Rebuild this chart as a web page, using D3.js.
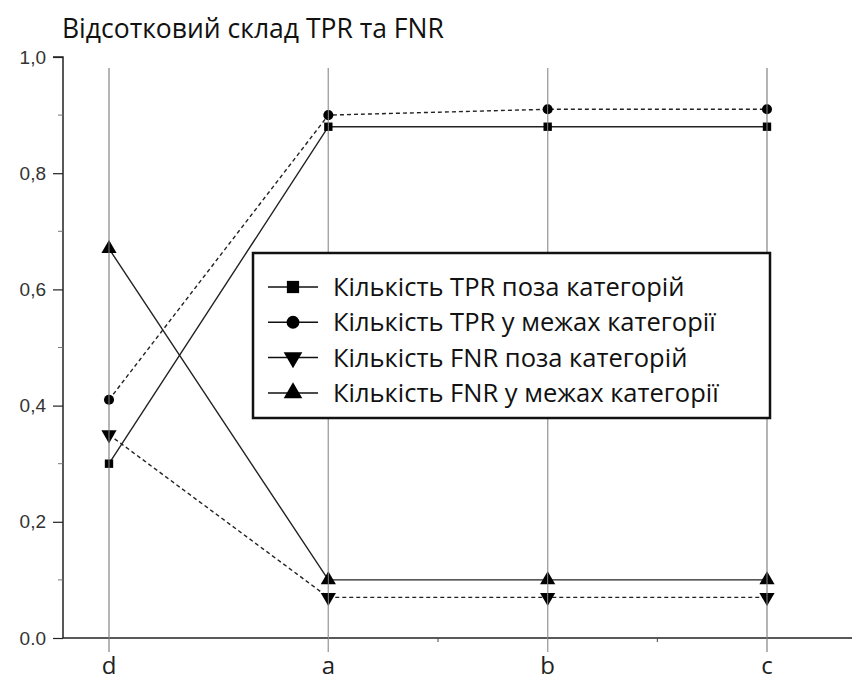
<!DOCTYPE html>
<html>
<head>
<meta charset="utf-8">
<script src="https://cdn.jsdelivr.net/npm/d3@7"></script>
<style>
  body { margin: 0; background: #fff; }
  svg { display: block; }
</style>
</head>
<body>
<script>
// chart data
const categories = ["d", "a", "b", "c"]
const tprOutside = [0.30, 0.88, 0.88, 0.88]
const tprWithin = [0.41, 0.90, 0.91, 0.91]
const fnrOutside = [0.35, 0.07, 0.07, 0.07]
const fnrWithin = [0.67, 0.10, 0.10, 0.10]
const yTicks = [0, 0.2, 0.4, 0.6, 0.8, 1.0]
const yTickLabels = ["0.0", "0,2", "0,4", "0,6", "0,8", "1,0"]
const seriesNames = [
  "Кількість TPR поза категорій",
  "Кількість TPR у межах категорії",
  "Кількість FNR поза категорій",
  "Кількість FNR у межах категорії"
]

const W = 859, H = 680
const svg = d3.select("body").append("svg").attr("width", W).attr("height", H)

const x = d3.scalePoint().domain(categories).range([109, 767])
const y = d3.scaleLinear().domain([0, 1]).range([638, 57])

const series = [
  {name: seriesNames[0], values: tprOutside, symbol: d3.symbolSquare, size: 70, dash: null, rot: 0, lsize: 150},
  {name: seriesNames[1], values: tprWithin, symbol: d3.symbolCircle, size: 80, dash: "4,3", rot: 0, lsize: 130},
  {name: seriesNames[2], values: fnrOutside, symbol: d3.symbolTriangle, size: 100, dash: "4,3", rot: 180, lsize: 150},
  {name: seriesNames[3], values: fnrWithin, symbol: d3.symbolTriangle, size: 100, dash: null, rot: 0, lsize: 150}
]

// title
svg.append("text")
  .attr("x", 62).attr("y", 38)
  .attr("font-family", "'Open Sans', sans-serif")
  .attr("font-size", 26.5)
  .attr("fill", "#111")
  .text("Відсотковий склад TPR та FNR")

// vertical grid lines at each category
svg.append("g").selectAll("line").data(categories).join("line")
  .attr("x1", d => x(d)).attr("x2", d => x(d))
  .attr("y1", 68).attr("y2", 652)
  .attr("stroke", "#999").attr("stroke-width", 1.3)

// y axis
const yAxis = svg.append("g").attr("transform", "translate(63,0)")
  .call(d3.axisLeft(y).tickValues(yTicks).tickFormat((d, i) => yTickLabels[i]).tickSize(10).tickPadding(7))
yAxis.attr("font-size", 19).attr("font-family", "'Liberation Sans', Arial, sans-serif")
yAxis.select(".domain").attr("stroke", "#222").attr("stroke-width", 1.5).attr("d", "M-10,57H0V638")
yAxis.selectAll(".tick line").attr("stroke", "#222").attr("stroke-width", 1.2)
yAxis.selectAll(".tick text").attr("fill", "#333")
// minor ticks
svg.append("g").selectAll("line").data(d3.range(0.1, 1, 0.2)).join("line")
  .attr("x1", 58).attr("x2", 63)
  .attr("y1", d => y(d)).attr("y2", d => y(d))
  .attr("stroke", "#777").attr("stroke-width", 1)

// x axis
svg.append("line")
  .attr("x1", 63).attr("x2", 852).attr("y1", 638).attr("y2", 638)
  .attr("stroke", "#222").attr("stroke-width", 1.5)
const mids = d3.pairs(categories).map(p => (x(p[0]) + x(p[1])) / 2).slice(1)
svg.append("g").selectAll("line").data(mids).join("line")
  .attr("x1", d => d).attr("x2", d => d).attr("y1", 638).attr("y2", 642)
  .attr("stroke", "#444")
svg.append("g").selectAll("text").data(categories).join("text")
  .attr("x", d => x(d)).attr("y", 674)
  .attr("text-anchor", "middle")
  .attr("font-family", "'Open Sans', sans-serif")
  .attr("font-size", 24)
  .attr("fill", "#222")
  .text(d => d)

// series lines and markers
const line = d3.line().x((d, i) => x(categories[i])).y(d => y(d))
series.forEach(s => {
  svg.append("path")
    .attr("d", line(s.values))
    .attr("fill", "none")
    .attr("stroke", "#222")
    .attr("stroke-width", 1.4)
    .attr("stroke-dasharray", s.dash)
  svg.append("g").selectAll("path").data(s.values).join("path")
    .attr("d", d3.symbol().type(s.symbol).size(s.size))
    .attr("transform", (d, i) => `translate(${x(categories[i])},${y(d)}) rotate(${s.rot})`)
    .attr("fill", "#000")
})

// thin grey grid line shows through the markers, like the original
svg.append("g").selectAll("line").data(categories).join("line")
  .attr("x1", d => x(d)).attr("x2", d => x(d))
  .attr("y1", 68).attr("y2", 652)
  .attr("stroke", "#aaa").attr("stroke-width", 0.8)

// legend
const lg = svg.append("g").attr("transform", "translate(253,253)")
lg.append("rect")
  .attr("width", 517).attr("height", 165)
  .attr("fill", "#fff").attr("stroke", "#111").attr("stroke-width", 2.5)
series.forEach((s, i) => {
  const row = lg.append("g").attr("transform", `translate(0,${34 + i * 35.3})`)
  row.append("line").attr("x1", 15).attr("x2", 65).attr("stroke", "#111").attr("stroke-width", 1.5)
  row.append("path")
    .attr("d", d3.symbol().type(s.symbol).size(s.lsize))
    .attr("transform", `translate(40,0) rotate(${s.rot})`)
    .attr("fill", "#000")
  row.append("text")
    .attr("x", 80).attr("y", 9)
    .attr("font-family", "'Open Sans', sans-serif")
    .attr("font-size", 25.5)
    .attr("fill", "#111")
    .text(s.name)
})
</script>
</body>
</html>
